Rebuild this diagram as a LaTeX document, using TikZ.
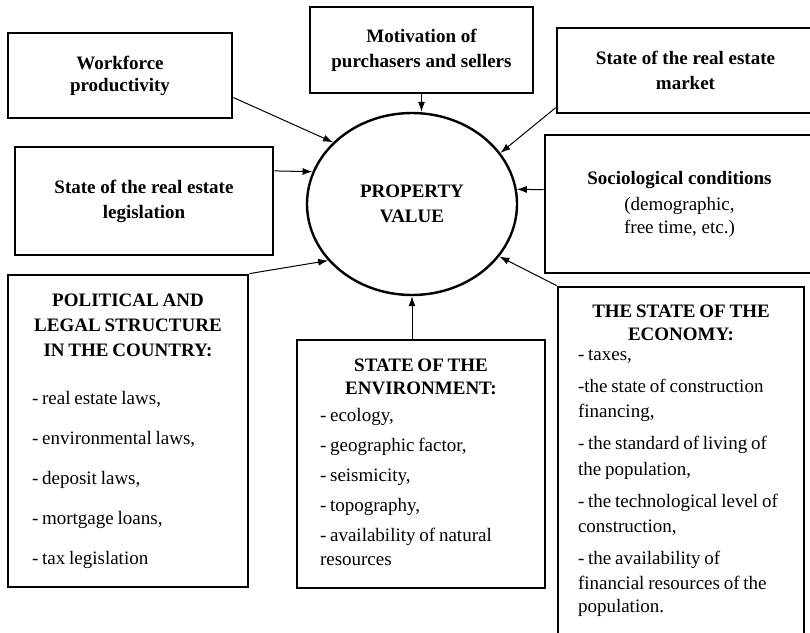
\documentclass[tikz,border=0pt]{standalone}
\usepackage{fontspec}
\setmainfont{Liberation Serif}
\usetikzlibrary{shapes,arrows.meta}
\DeclareRobustCommand\tightwords{\spaceskip=0.2em\relax}

\begin{document}
\begin{tikzpicture}[
    x=1pt, y=-1pt,
    box/.style={rectangle, draw, line width=2.8pt, align=center, inner sep=0pt, font=\fontsize{19}{24}\selectfont},
    head/.style={box, font=\fontsize{19}{24}\selectfont\bfseries},
    listbox/.style={box, align=left, inner xsep=#1},
    arrow/.style={-{Latex[length=10pt,width=7pt]}, line width=1pt}
]
\path[use as bounding box, fill=white] (0,0) rectangle (810,632);

% central factor
\node[draw, ellipse, line width=2.4pt, minimum width=210, minimum height=182, inner sep=0pt,
      align=center, font=\fontsize{19}{24}\selectfont\bfseries] (pv) at (412,204) {PROPERTY\\[1pt] VALUE};

% small boxes round the top
\node[head, minimum width=224, minimum height=85] (wf) at (120,75.5) {Workforce\\[-2pt] productivity};
\node[head, minimum width=223, minimum height=86] (mot) at (421.5,50) {Motivation of\\[1pt] purchasers and sellers};
\node[head, minimum width=257, minimum height=85] (mkt) at (685.5,70.5) {State of the real estate\\[1pt] market};
\node[head, minimum width=258, minimum height=108] (leg) at (144,201) {State of the real estate\\[1pt] legislation};
\node[box, minimum width=269, minimum height=138] (soc) at (679.5,204)
    {\textbf{Sociological conditions}\\[2pt] (demographic,\\[-1pt] free time, etc.)};

% boxes with lists
\node[listbox=24, text width=192, minimum height=312] (pol) at (128,431)
    {\tightwords
     {\centering\bfseries POLITICAL AND\\[1pt] LEGAL STRUCTURE\\[1pt] IN THE COUNTRY:\par}
     \vspace{24pt}
     - real estate laws,\\[16pt]
     - environmental laws,\\[16pt]
     - deposit laws,\\[16pt]
     - mortgage loans,\\[16pt]
     - tax legislation\rule[-3pt]{0pt}{0pt}};
\node[listbox=23, text width=202, minimum height=248] (env) at (421,464)
    {\tightwords
     {\centering\bfseries STATE OF THE\\[-1pt] ENVIRONMENT:\par}
     \vspace{3pt}
     - ecology,\\[6pt]
     - geographic factor,\\[6pt]
     - seismicity,\\[6pt]
     - topography,\\[6pt]
     - availability of natural\\
     resources\rule[-3pt]{0pt}{0pt}};
\node[listbox=20, text width=206, minimum height=358] (eco) at (681,466)
    {\tightwords
     {\centering\bfseries THE STATE OF THE\\[-1pt] ECONOMY:\par}
     \vspace{-4pt}
     - taxes,\\[8pt]
     -the state of construction\\[1pt]
     financing,\\[8pt]
     - the standard of living of\\[2pt]
     the population,\\[8pt]
     - the technological level of\\[1pt]
     construction,\\[8pt]
     - the availability of\\[1pt]
     financial resources of the\\[-1pt]
     population.\rule[-15pt]{0pt}{0pt}};

% influences
\draw[arrow] (wf.-11) -- (pv.142);
\draw[arrow] (leg.13) -- (pv.162);
\draw[arrow] (pol.north east) -- (pv.214);
\draw[arrow] (mot.south) -- (mot.south |- pv.north);
\draw[arrow] (mkt.196) -- (pv.30);
\draw[arrow] (soc.174) -- (pv.8);
\draw[arrow] (eco.north west) -- (pv.-31);
\draw[arrow] (env.north -| pv.south) -- (pv.south);

\end{tikzpicture}
\end{document}
